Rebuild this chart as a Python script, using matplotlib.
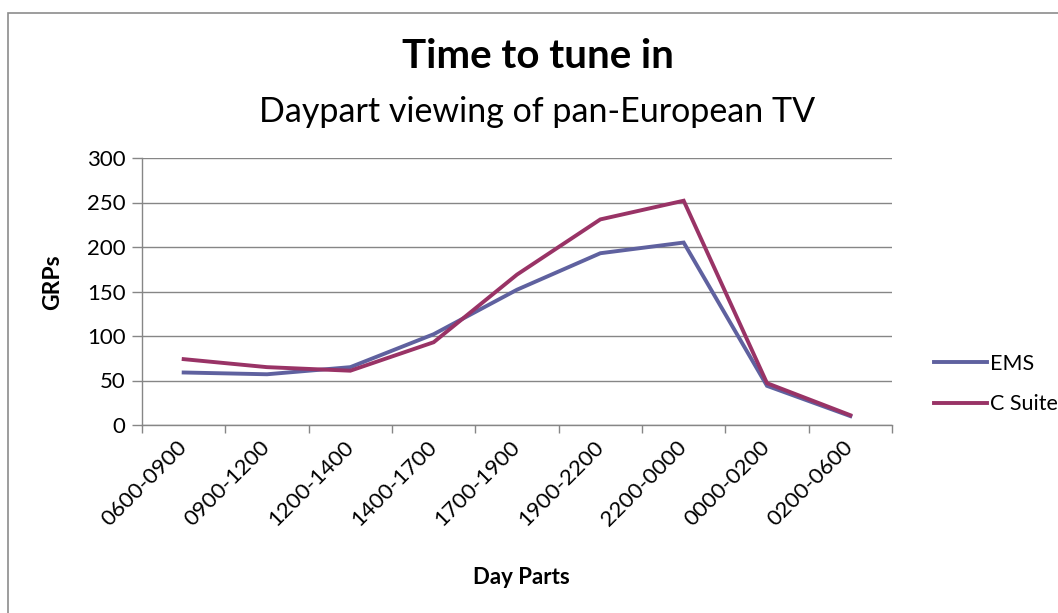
import matplotlib
matplotlib.use("Agg")
import matplotlib.pyplot as plt
from matplotlib.patches import Rectangle

# data
day_parts = ["0600-0900", "0900-1200", "1200-1400", "1400-1700", "1700-1900",
             "1900-2200", "2200-0000", "0000-0200", "0200-0600"]
ems = [59, 57, 65, 102, 152, 193, 205, 44, 10]
c_suite = [74, 65, 61, 93, 169, 231, 252, 47, 11]
y_ticks = [0, 50, 100, 150, 200, 250, 300]

plt.rcParams['font.family'] = ['Lato', 'DejaVu Sans']

W, H = 1058, 613
fig = plt.figure(figsize=(W / 100, H / 100), dpi=100)

# chart outline (top-left corner only visible in the screenshot)
fig.patches.append(Rectangle((8 / W, -0.1), 1.2, 1 - 13 / H + 0.1,
                             transform=fig.transFigure, fill=False,
                             edgecolor='#8c8c8c', linewidth=1.2))

ax = fig.add_axes([142 / W, 1 - 425 / H, 750 / W, 267 / H])

grid_col = '#868686'
x = [i + 0.5 for i in range(len(day_parts))]
ax.plot(x, ems, color='#5F619F', linewidth=2.8, label='EMS',
        solid_joinstyle='miter')
ax.plot(x, c_suite, color='#993366', linewidth=2.8, label='C Suite',
        solid_joinstyle='miter')

ax.set_xlim(0, len(day_parts))
ax.set_ylim(0, 300)
ax.set_yticks(y_ticks)
ax.yaxis.grid(True, color=grid_col, linewidth=1)
ax.set_axisbelow(True)

# category boundaries get the tick marks, labels sit at the centres
ax.set_xticks(range(len(day_parts) + 1))
ax.set_xticklabels([])
ax.set_xticks(x, minor=True)
ax.set_xticklabels(day_parts, minor=True, rotation=45, ha='right',
                   va='center', rotation_mode='anchor', fontsize=16)
ax.tick_params(axis='x', which='major', length=6, color=grid_col, width=1)
ax.tick_params(axis='x', which='minor', length=0, pad=14)
ax.tick_params(axis='y', length=7, color=grid_col, width=1, labelsize=16, pad=5)

for s in ['top', 'right']:
    ax.spines[s].set_visible(False)
for s in ['left', 'bottom']:
    ax.spines[s].set_color(grid_col)
    ax.spines[s].set_linewidth(1)

fig.text(53 / W, 1 - 282 / H, 'GRPs', fontsize=16.5, fontweight='bold',
         rotation=90, ha='center', va='center')
fig.text(521 / W, 1 - 577 / H, 'Day Parts', fontsize=16, fontweight='bold',
         ha='center', va='center')

fig.text(538 / W, 1 - 68 / H, 'Time to tune in', fontsize=29,
         fontweight='bold', ha='center', va='baseline')
fig.text(537 / W, 1 - 122 / H, 'Daypart viewing of pan-European TV',
         fontsize=24.5, ha='center', va='baseline')

fig.legend(loc='center left', bbox_to_anchor=(925 / W, 1 - 384 / H),
           frameon=False, fontsize=15.5, handlelength=2.5,
           handletextpad=0.1, labelspacing=0.95, borderaxespad=0)

fig.savefig('out.png', dpi=100)
